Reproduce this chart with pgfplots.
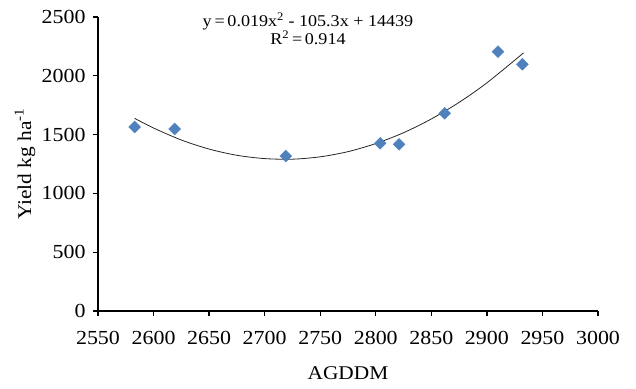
\documentclass[border=0pt]{standalone}
\usepackage{pgfplots}
\pgfplotsset{compat=1.18}
\usepackage{fontspec}
\setmainfont[FakeStretch=1.1]{Liberation Serif}
\definecolor{xlblue}{HTML}{4F81BD}
\begin{document}
\begin{tikzpicture}
\begin{axis}[
  at={(0,0)}, anchor=origin,
  scale only axis,
  width=500bp, height=294bp,
  xmin=2550, xmax=3000, ymin=0, ymax=2500,
  xtick={2550,2600,...,3000},
  ytick={0,500,...,2500},
  axis lines=left,
  axis line style={-, line width=1.6bp, black},
  tick align=outside,
  major tick length=5bp,
  tick style={black, line width=1.3bp},
  clip=false,
  /pgf/number format/assume math mode=true,
  /pgf/number format/1000 sep={},
  ticklabel style={font=\fontsize{20}{22}\selectfont},
  xticklabel style={yshift=-12bp},
  yticklabel style={xshift=-4bp},
  xlabel={AGDDM},
  ylabel={Yield kg ha\textsuperscript{-1}},
  label style={font=\fontsize{19.5}{22}\selectfont},
  xlabel style={at={(axis description cs:0.5,-0.211)}, anchor=center},
  ylabel style={at={(axis description cs:-0.146,0.5)}, anchor=center},
]
\addplot[black!85, line width=0.8bp, smooth] coordinates {
 (2583,1638) (2600,1556) (2625,1454) (2650,1377) (2675,1324) (2700,1296)
 (2725,1291) (2750,1311) (2775,1355) (2800,1424) (2825,1516) (2850,1633)
 (2875,1774) (2900,1940) (2933,2195)
};
\addplot[only marks, mark=square*, mark size=4.2bp, mark options={rotate=45, fill=xlblue, draw=xlblue}] coordinates {
 (2583,1565) (2619,1548) (2719,1318) (2804,1426) (2821,1417) (2862,1681) (2910,2205) (2932,2098)
};
\node[font=\fontsize{16.5}{19}\selectfont, align=center, inner sep=0pt] at (axis cs:2739,2400)
 {y\,=\,0.019x\textsuperscript{2} - 105.3x + 14439\\[-1pt] R\textsuperscript{2}\,=\,0.914};
\end{axis}
\useasboundingbox (-98bp,-78bp) rectangle (538bp,311bp);
\end{tikzpicture}
\end{document}
